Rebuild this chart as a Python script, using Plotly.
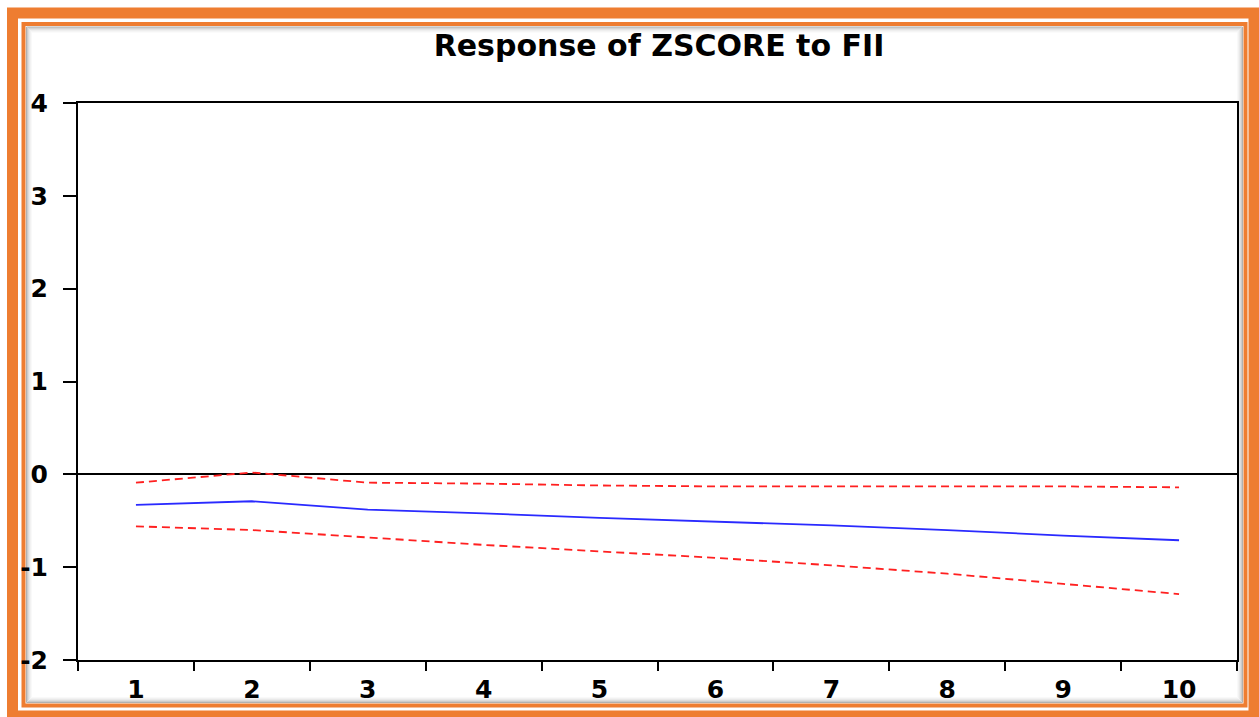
import plotly.graph_objects as go

W, H = 1259, 717
ML, MR, MT, MB = 78, 22, 103, 57

periods = ["1", "2", "3", "4", "5", "6", "7", "8", "9", "10"]
response = [-0.33, -0.29, -0.38, -0.42, -0.47, -0.51, -0.55, -0.60, -0.66, -0.71]
upper_band = [-0.09, 0.02, -0.09, -0.10, -0.12, -0.13, -0.13, -0.13, -0.13, -0.14]
lower_band = [-0.56, -0.60, -0.68, -0.76, -0.83, -0.90, -0.98, -1.07, -1.18, -1.29]
y_ticks = [-2, -1, 0, 1, 2, 3, 4]
y_tick_labels = ["-2", "-1", "0", "1", "2", "3", "4"]

fig = go.Figure()
fig.add_trace(go.Scatter(x=periods, y=upper_band, mode="lines",
                         line=dict(color="#ff2020", width=1.8, dash="8px,5px")))
fig.add_trace(go.Scatter(x=periods, y=lower_band, mode="lines",
                         line=dict(color="#ff2020", width=1.8, dash="8px,5px")))
fig.add_trace(go.Scatter(x=periods, y=response, mode="lines",
                         line=dict(color="#2a2aff", width=1.8)))

pw = W - ML - MR
ph = H - MT - MB

def px2paper_x(px):
    return (px - ML) / pw

def px2paper_y(py):
    return 1 - (py - MT) / ph

def rect(x0, y0, x1, y1, color, width, opacity=1.0):
    return dict(type="rect", xref="paper", yref="paper", layer="below",
                x0=px2paper_x(x0), x1=px2paper_x(x1),
                y0=px2paper_y(y1), y1=px2paper_y(y0),
                line=dict(color=color, width=width), fillcolor="rgba(0,0,0,0)",
                opacity=opacity)

shapes = []
orange = "#ee7d31"
shapes.append(rect(12.5, 13, 1254, 716, orange, 11))
shapes.append(rect(23.5, 24, 1245.5, 705.5, orange, 4))
for i, op in enumerate([0.45, 0.3, 0.2, 0.12, 0.07, 0.03]):
    shapes.append(rect(26.5 + i, 27 + i, 1242.5 - i, 702.5 - i, "#555555", 1, op))

fig.update_layout(
    width=W, height=H,
    margin=dict(l=ML, r=MR, t=MT, b=MB, autoexpand=False),
    paper_bgcolor="white", plot_bgcolor="white",
    showlegend=False,
    shapes=shapes,
    title=dict(text="Response of ZSCORE to FII", x=px2paper_x(659), xref="paper",
               xanchor="center", y=1 - 45 / H, yref="container", yanchor="middle",
               font=dict(family="DejaVu Sans", size=30, color="black", weight=700)),
    font=dict(family="DejaVu Sans", color="black"),
)
fig.update_xaxes(type="category", range=[-0.5, 9.5], tickson="boundaries", ticks="outside",
                 ticklen=9, tickwidth=2, tickcolor="black", showline=True, linecolor="black",
                 linewidth=2, mirror=True, showgrid=False, automargin=False,
                 tickfont=dict(family="DejaVu Sans", size=25, color="black", weight=700),
                 ticklabelstandoff=6)
fig.update_yaxes(range=[-2, 4], tickvals=y_ticks, ticktext=y_tick_labels, ticks="outside",
                 ticklen=13, tickwidth=2, tickcolor="black", showline=True, linecolor="black",
                 linewidth=2, mirror=True, showgrid=False, automargin=False,
                 zeroline=True, zerolinecolor="black", zerolinewidth=1.5,
                 tickfont=dict(family="DejaVu Sans", size=25, color="black", weight=700),
                 ticklabelstandoff=10)

fig.write_html("out.html")
